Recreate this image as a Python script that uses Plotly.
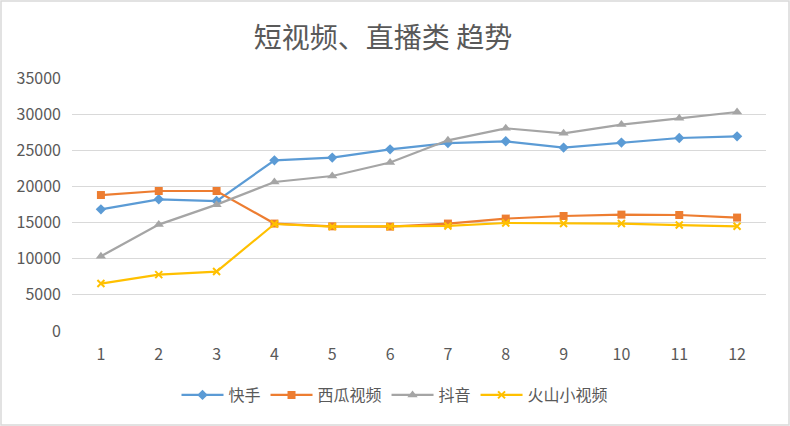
import plotly.graph_objects as go

# months
months = ['1', '2', '3', '4', '5', '6', '7', '8', '9', '10', '11', '12']

# values
kuaishou = [16830, 18220, 17980, 23610, 23990, 25130, 26000, 26240, 25370, 26060, 26700, 26930]
xigua = [18810, 19370, 19370, 14860, 14480, 14440, 14860, 15550, 15910, 16100, 16050, 15690]
douyin = [10330, 14720, 17480, 20610, 21440, 23300, 26380, 28040, 27350, 28550, 29420, 30300]
huoshan = [6560, 7800, 8220, 14800, 14440, 14440, 14530, 14940, 14860, 14860, 14660, 14480]

series = [
    ('快手', kuaishou, '#5B9BD5', 'diamond', 8),
    ('西瓜视频', xigua, '#ED7D31', 'square', 8),
    ('抖音', douyin, '#A5A5A5', 'triangle-up', 9),
    ('火山小视频', huoshan, '#FFC000', 'x-thin', 7),
]

fig = go.Figure()
for name, vals, color, symbol, size in series:
    fig.add_trace(go.Scatter(
        x=months, y=vals, name=name, mode='lines+markers',
        line=dict(color=color, width=2.2),
        marker=dict(symbol=symbol, size=size, color=color,
                    line=dict(color=color, width=2 if symbol == 'x-thin' else 0)),
    ))

# plot area in pixels: left 72, right 766, top 78, bottom 331
W, H = 790, 426
L, R, T, B = 72, 24, 78, 95
pw, ph = W - L - R, H - T - B

fig.update_layout(
    width=W, height=H,
    margin=dict(l=L, r=R, t=T, b=B),
    paper_bgcolor='white', plot_bgcolor='white',
    font=dict(family='Noto Sans CJK SC, Noto Sans, sans-serif', color='#595959', size=16),
    title=dict(text='短视频、直播类 趋势', x=383 / W, xanchor='center',
               y=1 - 38 / H, yanchor='middle',
               font=dict(size=28, color='#595959')),
    xaxis=dict(type='category', range=[-0.5, 11.5], showgrid=False, showline=False,
               zeroline=False, ticks='', ticklabelstandoff=12,
               tickfont=dict(size=16, color='#595959')),
    yaxis=dict(range=[0, 35000], dtick=5000, showgrid=True, gridcolor='#D9D9D9',
               gridwidth=1.2, zeroline=False, showline=False, ticks='',
               ticklabelstandoff=10, tickformat='d',
               tickfont=dict(size=16, color='#595959')),
    # legend centred on the whole chart, not the plot area
    legend=dict(orientation='h', x=(395 - L) / pw, xanchor='center',
                y=(331 - 395) / ph, yanchor='middle',
                font=dict(size=16, color='#595959'), itemwidth=42),
    shapes=[dict(type='rect', xref='paper', yref='paper',
                 x0=(1 - L) / pw, x1=(W - 1 - L) / pw,
                 y0=(331 - (H - 1)) / ph, y1=(331 - 1) / ph,
                 line=dict(color='#D9D9D9', width=1.5), layer='below')],
)

fig.write_html('out.html', config={'displayModeBar': False},
               post_script="document.body.style.margin='0';")
